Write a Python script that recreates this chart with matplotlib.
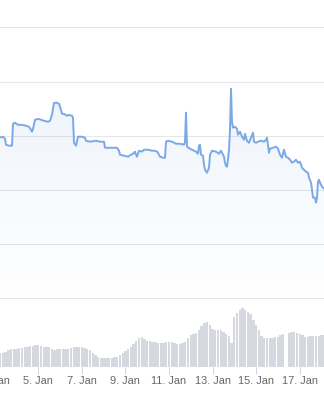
import numpy as np
import matplotlib
matplotlib.use("Agg")
import matplotlib.pyplot as plt
from matplotlib.colors import LinearSegmentedColormap

# price series: day of January (fractional) and price
days = [3.196, 3.379, 3.471, 3.517, 3.655, 3.792, 3.838, 3.930, 4.068, 4.252,
        4.435, 4.573, 4.665, 4.711, 4.757, 4.848, 4.986, 5.124, 5.262, 5.445,
        5.537, 5.629, 5.721, 5.859, 5.950, 6.042, 6.088, 6.180, 6.318, 6.410,
        6.547, 6.593, 6.639, 6.731, 6.823, 7.006, 7.144, 7.190, 7.374, 7.649,
        7.833, 8.017, 8.062, 8.292, 8.613, 8.705, 8.751, 8.935, 9.118, 9.256,
        9.348, 9.440, 9.486, 9.532, 9.624, 9.761, 9.853, 10.037, 10.220, 10.358,
        10.450, 10.496, 10.588, 10.725, 10.817, 10.863, 10.955, 11.139, 11.322, 11.506,
        11.690, 11.736, 11.782, 11.827, 11.965, 12.149, 12.241, 12.333, 12.378, 12.424,
        12.470, 12.562, 12.608, 12.654, 12.746, 12.837, 12.883, 12.975, 13.159, 13.297,
        13.388, 13.480, 13.526, 13.572, 13.618, 13.664, 13.710, 13.756, 13.802, 13.848,
        13.893, 13.939, 14.031, 14.123, 14.169, 14.261, 14.353, 14.444, 14.490, 14.582,
        14.674, 14.766, 14.858, 14.904, 14.995, 15.087, 15.225, 15.363, 15.455, 15.501,
        15.592, 15.638, 15.776, 15.914, 16.006, 16.097, 16.189, 16.281, 16.373, 16.465,
        16.557, 16.648, 16.740, 16.832, 16.924, 17.016, 17.108, 17.199, 17.291, 17.383,
        17.429, 17.521, 17.567, 17.613, 17.704, 17.750, 17.796, 17.842, 17.888, 17.934,
        18.026, 18.118, 18.209]
prices = [34.83, 34.92, 34.73, 34.18, 34.09, 34.09, 36.11, 36.21, 36.02, 36.02,
          35.93, 35.84, 35.56, 35.38, 35.65, 36.48, 36.57, 36.48, 36.39, 36.30,
          36.39, 36.94, 38.05, 38.05, 37.96, 37.40, 37.03, 37.03, 36.85, 36.94,
          36.85, 36.67, 34.36, 34.09, 34.92, 34.92, 34.83, 34.55, 34.46, 34.55,
          34.46, 34.46, 33.90, 33.90, 33.90, 33.63, 33.26, 33.17, 33.08, 33.26,
          33.35, 33.54, 33.26, 33.08, 33.63, 33.54, 33.72, 33.72, 33.63, 33.63,
          33.54, 33.44, 33.08, 32.98, 32.98, 34.46, 34.55, 34.46, 34.27, 34.27,
          34.18, 34.46, 37.13, 34.00, 33.81, 33.63, 33.54, 33.35, 34.09, 34.18,
          33.26, 33.17, 32.34, 31.88, 31.60, 32.06, 33.26, 33.63, 33.54, 33.35,
          33.63, 33.26, 33.08, 32.52, 32.25, 32.15, 32.80, 33.72, 35.56, 39.34,
          36.30, 35.75, 35.84, 35.65, 35.10, 35.38, 34.92, 34.64, 35.19, 34.55,
          34.36, 34.83, 35.29, 34.46, 34.36, 34.46, 34.55, 34.46, 34.64, 34.83,
          33.44, 33.81, 33.90, 34.00, 33.81, 33.26, 32.98, 33.72, 33.08, 32.98,
          32.80, 32.52, 32.62, 32.80, 32.52, 32.62, 32.06, 31.88, 31.69, 31.60,
          31.14, 30.68, 30.04, 29.30, 29.30, 28.84, 29.30, 30.77, 30.96, 30.68,
          30.31, 30.13, 30.04]

# volume, 3-hour bars starting 3. Jan 06:00
vol_start = 3.25
vol_step = 0.125
volume = [14, 14, 15, 17, 18, 18, 18, 19, 19, 20,
          20, 21, 21, 22, 22, 21, 20, 20, 20, 18,
          17, 18, 18, 18, 18, 18, 19, 20, 20, 20,
          20, 19, 18, 17, 14, 12, 10, 9, 9, 9,
          9, 9, 10, 10, 12, 14, 16, 18, 20, 23,
          26, 29, 30, 28, 26, 26, 25, 25, 24, 24,
          24, 25, 25, 25, 24, 23, 23, 24, 25, 29,
          32, 33, 34, 37, 41, 44, 45, 42, 38, 37,
          37, 37, 35, 33, 31, 24, 50, 54, 57, 59,
          57, 55, 53, 47, 42, 37, 31, 29, 29, 29,
          29, 30, 30, 32, 33, 0, 34, 35, 35, 34,
          33, 32, 30, 30, 31, 31, 31, 31, 32, 32]

tick_days = [3, 5, 7, 9, 11, 13, 15, 17]
tick_labels = [f"{d}. Jan" for d in tick_days]

line_color = "#7aa9e6"
grid_color = "#e6e6e6"

plt.rcParams['font.family'] = ['Liberation Sans', 'DejaVu Sans']

fig = plt.figure(figsize=(3.24, 4.0), dpi=100)
W, H = 324.0, 400.0
# axes stretch past the left/right edge (the reference is a crop)
left_px, right_px = -30.0, 354.0
xlim = (5 + (left_px - 38.3) / 21.78, 5 + (right_px - 38.3) / 21.78)

ax = fig.add_axes([left_px / W, (H - 299) / H, (right_px - left_px) / W, 299 / H])
axv = fig.add_axes([left_px / W, (H - 367) / H, (right_px - left_px) / W, 68 / H])

# price pane
ax.set_yticks([20, 25, 30, 35, 40, 45])
ax.grid(axis='y', color=grid_color, lw=0.75)
ax.set_axisbelow(True)
for s in ax.spines.values():
    s.set_visible(False)
ax.tick_params(left=False, bottom=False, labelleft=False, labelbottom=False)

d = np.array(days)
p = np.array(prices)
poly = ax.fill_between(d, p, 19.95, color='none', lw=0)
cmap = LinearSegmentedColormap.from_list('g', [(0.49, 0.66, 0.90, 0.0), (0.49, 0.66, 0.90, 0.13)])
grad = np.linspace(0, 1, 256).reshape(-1, 1)
img = ax.imshow(grad, cmap=cmap, aspect='auto', origin='lower',
                extent=[d.min(), d.max(), 19.95, p.max()], zorder=1)
img.set_clip_path(poly.get_paths()[0], transform=ax.transData)
ax.plot(d, p, color=line_color, lw=1.4, zorder=3)
ax.set_xlim(*xlim)
ax.set_ylim(19.95, 20 + 299 / 10.86)

# volume pane
vx = vol_start + vol_step * np.arange(len(volume))
axv.bar(vx, volume, width=vol_step * 0.85, color='#d5d8de', lw=0)
axv.set_xlim(*xlim)
axv.set_ylim(0, 68)
for s in axv.spines.values():
    s.set_visible(False)
axv.set_yticks([])
axv.set_xticks(tick_days)
axv.set_xticklabels(tick_labels)
axv.tick_params(axis='x', length=5, width=0.75, color='#ccd6eb', pad=1.5,
                labelsize=7.9, labelcolor='#666666')

fig.savefig("out.png", dpi=100)
